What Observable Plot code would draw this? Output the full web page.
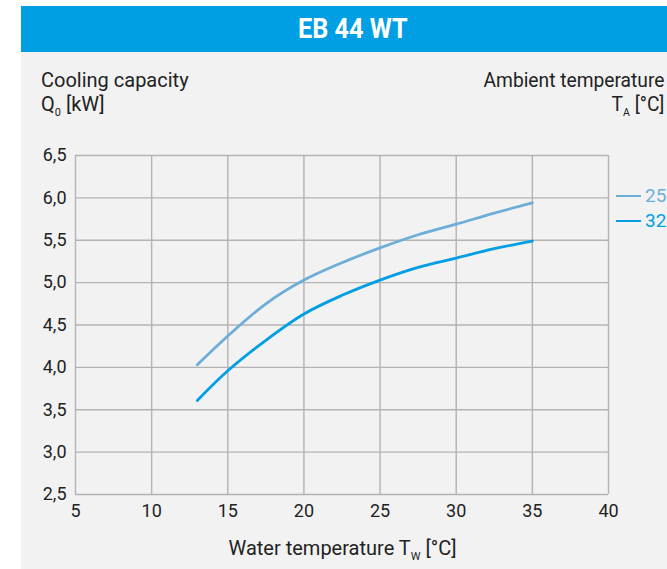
<!DOCTYPE html>
<html><head><meta charset="utf-8">
<script src="https://cdn.jsdelivr.net/npm/d3@7"></script>
<script src="https://cdn.jsdelivr.net/npm/@observablehq/plot@0.6"></script>
<style>
body{margin:0;background:#fff;}
#wrap{position:relative;width:667px;height:569px;overflow:hidden;background:#fff;font-family:Roboto,"Liberation Sans",sans-serif;color:#222;}
#head{position:absolute;left:21px;top:6px;width:646px;height:46px;background:#009fe3;}
#title{position:absolute;left:0;width:706px;top:6px;height:46px;color:#fff;font-weight:bold;font-size:28px;text-align:center;line-height:46px;}
#title span{display:inline-block;transform:scaleX(0.9);}
#panel{position:absolute;left:21px;top:52px;width:646px;height:517px;background:#f2f2f2;}
.t{position:absolute;font-size:20px;white-space:nowrap;line-height:24px;}
sub{font-size:11px;vertical-align:-5px;line-height:0;}
#chart{position:absolute;left:0;top:140px;}
#legend{position:absolute;left:616px;top:183px;font-size:19px;}
.li{display:flex;align-items:center;height:25px;white-space:nowrap;}
.li span.sw{display:inline-block;width:25px;height:0;border-top:2px solid;margin-right:4px;}
</style></head>
<body>
<div id="wrap">
  <div id="panel"></div>
  <div id="head"></div>
  <div id="title"><span>EB 44 WT</span></div>
  <div class="t" style="left:41px;top:68px;">Cooling capacity<br>Q<sub>0</sub> [kW]</div>
  <div class="t" style="right:3px;top:68px;text-align:right;transform:scaleX(0.96);transform-origin:right center;">Ambient temperature<br>T<sub>A</sub> [°C]</div>
  <div id="chart"></div>
  <div id="legend"></div>
  <div class="t" style="left:0;width:685px;text-align:center;top:536px;">Water temperature T<sub>W</sub> [°C]</div>
</div>
<script>
const waterTemp = [13, 15, 17.5, 20, 22.5, 25, 27.5, 30, 32.5, 35];
const cap25 = [4.03, 4.37, 4.75, 5.03, 5.235, 5.41, 5.565, 5.69, 5.82, 5.94];
const cap32 = [3.61, 3.96, 4.32, 4.63, 4.85, 5.03, 5.18, 5.29, 5.40, 5.49];
const ambient = ["25", "32"];
const colors = ["#6caed8", "#009fe3"];
const xTicks = [5, 10, 15, 20, 25, 30, 35, 40];
const yTicks = [2.5, 3.0, 3.5, 4.0, 4.5, 5.0, 5.5, 6.0, 6.5];

const series = [cap25, cap32];
const data = [];
series.forEach((vals, si) => vals.forEach((v, i) => data.push({x: waterTemp[i], y: v, s: ambient[si]})));

const fmt = d => d.toFixed(1).replace(".", ",");
const plot = Plot.plot({
  width: 667, height: 425,
  marginLeft: 75, marginRight: 59, marginTop: 15, marginBottom: 71,
  style: {background: "transparent", fontFamily: "Roboto, 'Liberation Sans', sans-serif", fontSize: "18px", color: "#222"},
  x: {domain: [5, 40], ticks: xTicks},
  y: {domain: [2.5, 6.5], ticks: yTicks},
  color: {domain: ambient, range: colors},
  marks: [
    Plot.ruleX(xTicks, {stroke: "#b3b3b3", strokeWidth: 1.4}),
    Plot.ruleY(yTicks, {stroke: "#b3b3b3", strokeWidth: 1.4}),
    Plot.axisX(xTicks, {tickSize: 0, tickPadding: 10, label: null, fontSize: 18}),
    Plot.axisY(yTicks, {tickSize: 0, tickPadding: 9, label: null, tickFormat: fmt, fontSize: 18}),
    Plot.line(data, {x: "x", y: "y", z: "s", stroke: "s", strokeWidth: 2.8, curve: "catmull-rom"})
  ]
});
document.getElementById("chart").appendChild(plot);

const lg = document.getElementById("legend");
ambient.forEach((a, i) => {
  const d = document.createElement("div");
  d.className = "li";
  d.style.color = colors[i];
  d.innerHTML = `<span class="sw" style="border-color:${colors[i]}"></span>${a}`;
  lg.appendChild(d);
});
</script>
</body></html>
